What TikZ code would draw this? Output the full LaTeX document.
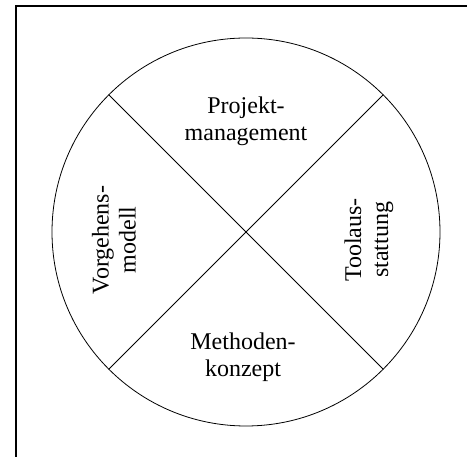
\documentclass[tikz,border=0pt]{standalone}
\usepackage{fontspec}
\setmainfont{Liberation Serif}
\begin{document}
\begin{tikzpicture}[x=1pt,y=-1pt,
  ring/.style={draw, circle, minimum size=388pt, inner sep=0pt, line width=0.8pt},
  divider/.style={line width=0.8pt},
  frame/.style={line width=2pt},
  label/.style={align=center, inner sep=0pt, font=\fontsize{24}{27}\selectfont}]
  \useasboundingbox (0,0) rectangle (467,457);
  % frame edges (top and left)
  \coordinate (ftl) at (15.5,6);
  \coordinate (ftr) at (467,6);
  \coordinate (fbl) at (15.5,457);
  \draw[frame] (fbl) -- (ftl) -- (ftr);
  % circle split into four quadrants
  \node[ring] (c) at (246,232) {};
  \draw[divider] (c.135) -- (c.-45);
  \draw[divider] (c.45) -- (c.-135);
  % quadrant labels
  \node[label] (top) at (246,121) {Projekt-\\management};
  \node[label] (bottom) at (243,357) {Methoden-\\konzept};
  \node[label, rotate=90] (left) at (114,240) {Vorgehens-\\modell};
  \node[label, rotate=90] (right) at (369,240) {Toolaus-\\stattung};
\end{tikzpicture}
\end{document}
